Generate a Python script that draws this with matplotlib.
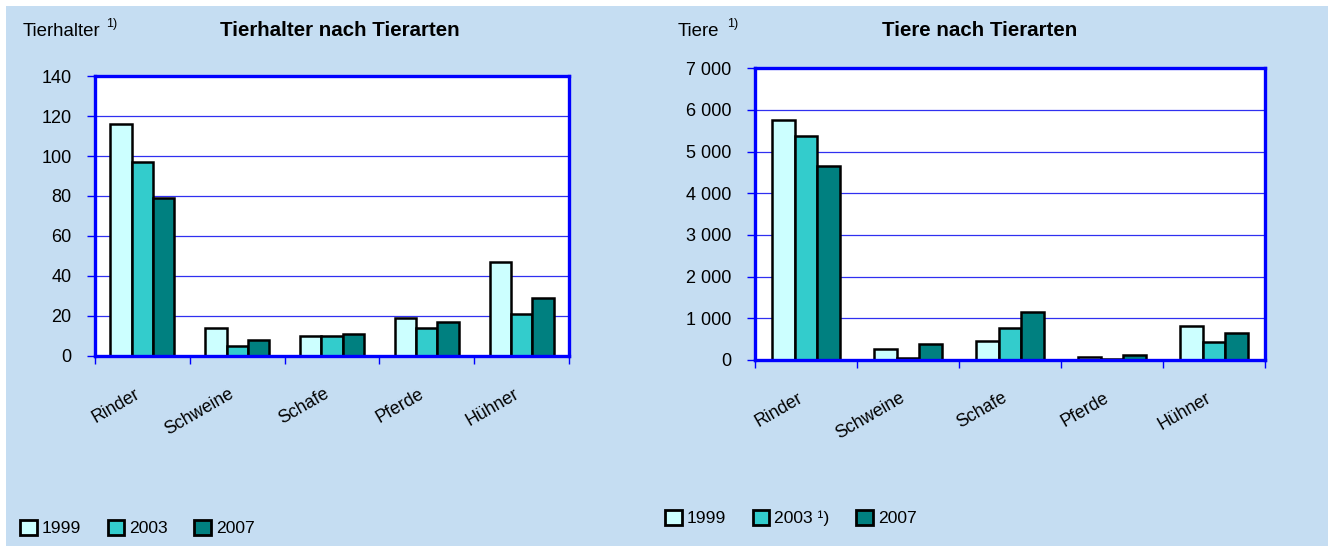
import matplotlib
matplotlib.use('Agg')
import matplotlib.pyplot as plt
from matplotlib.patches import Rectangle, Patch
import numpy as np

# ---------------- data ----------------
categories = ['Rinder', 'Schweine', 'Schafe', 'Pferde', 'Hühner']
years_left = ['1999', '2003', '2007']
years_right = ['1999', '2003 ¹)', '2007']

halter_1999 = [116, 14, 10, 19, 47]
halter_2003 = [97, 5, 10, 14, 21]
halter_2007 = [79, 8, 11, 17, 29]

tiere_1999 = [5760, 264, 456, 72, 808]
tiere_2003 = [5384, 40, 768, 30, 424]
tiere_2007 = [4656, 376, 1144, 112, 648]

left_yticks = [0, 20, 40, 60, 80, 100, 120, 140]
left_yticklabels = ['0', '20', '40', '60', '80', '100', '120', '140']
right_yticks = [0, 1000, 2000, 3000, 4000, 5000, 6000, 7000]
right_yticklabels = ['0', '1 000', '2 000', '3 000', '4 000', '5 000', '6 000', '7 000']

# ---------------- style ----------------
plt.rcParams['font.family'] = ['Liberation Sans', 'DejaVu Sans']

BG = '#C5DDF2'
BLUE = '#0000FF'
GRID = '#3030F0'
COLORS = ['#CCFFFF', '#33CCCC', '#008080']

W, H = 1333, 546
fig = plt.figure(figsize=(W / 100, H / 100), dpi=100, facecolor='white')
fig.patches.append(Rectangle((6 / W, 0), (1328 - 6) / W, (H - 6) / H,
                             transform=fig.transFigure, facecolor=BG,
                             edgecolor='none', zorder=-10))


def fx(px):
    return px / W


def fy(py):
    return 1 - py / H


def make_chart(rect, series, ymax, yticks, yticklabels):
    ax = fig.add_axes(rect)
    ax.set_facecolor('white')
    x = np.arange(len(categories))
    bw = 0.225
    for i, vals in enumerate(series):
        ax.bar(x + (i - 1) * bw, vals, width=bw, color=COLORS[i],
               edgecolor='black', linewidth=1.8, zorder=3)
    ax.set_xlim(-0.5, len(categories) - 0.5)
    ax.set_ylim(0, ymax)
    ax.set_yticks(yticks)
    ax.set_yticklabels(yticklabels, fontsize=13)
    ax.yaxis.grid(True, color=GRID, linewidth=0.9, zorder=1)
    ax.set_axisbelow(True)
    for s in ax.spines.values():
        s.set_color(BLUE)
        s.set_linewidth(2.4)
        s.set_zorder(5)
    ax.tick_params(axis='y', colors=BLUE, labelcolor='black', length=6,
                   width=1, pad=11, direction='out')
    ax.set_xticks(x)
    ax.set_xticklabels(categories, rotation=30, ha='right', va='top',
                       fontsize=12.8)
    ax.tick_params(axis='x', which='major', length=0, pad=21,
                   labelcolor='black')
    ax.set_xticks(np.arange(-0.5, len(categories)), minor=True)
    ax.tick_params(axis='x', which='minor', length=6, width=1, colors=BLUE,
                   direction='out')
    return ax


axL = make_chart([fx(95), fy(356), fx(569 - 95), (356 - 76) / H],
                 [halter_1999, halter_2003, halter_2007], 140,
                 left_yticks, left_yticklabels)
axR = make_chart([fx(755), fy(360), fx(1265 - 755), (360 - 68.3) / H],
                 [tiere_1999, tiere_2003, tiere_2007], 7000,
                 right_yticks, right_yticklabels)

# titles and unit labels
fig.text(fx(340), fy(36), 'Tierhalter nach Tierarten', ha='center',
         va='baseline', fontsize=14.8, fontweight='bold')
fig.text(fx(980), fy(36), 'Tiere nach Tierarten', ha='center',
         va='baseline', fontsize=14.8, fontweight='bold')
fig.text(fx(23), fy(36), 'Tierhalter', ha='left', va='baseline',
         fontsize=13.4)
fig.text(fx(106), fy(27), '1)', ha='left', va='baseline', fontsize=9)
fig.text(fx(678), fy(36), 'Tiere', ha='left', va='baseline', fontsize=13.4)
fig.text(fx(727), fy(27), '1)', ha='left', va='baseline', fontsize=9)


def add_legend(labels, x0, yc):
    handles = [Patch(facecolor=c, edgecolor='black', linewidth=2.0)
               for c in COLORS]
    fig.legend(handles, labels, loc='center left',
               bbox_to_anchor=(fx(x0), fy(yc)), bbox_transform=fig.transFigure,
               ncol=3, frameon=False, fontsize=12.6, handlelength=0.95,
               handleheight=0.95, handletextpad=0.3, columnspacing=1.5,
               borderpad=0, borderaxespad=0)


add_legend(years_left, 20, 528)
add_legend(years_right, 665, 518)

fig.savefig('out.png', dpi=100, facecolor='white')
